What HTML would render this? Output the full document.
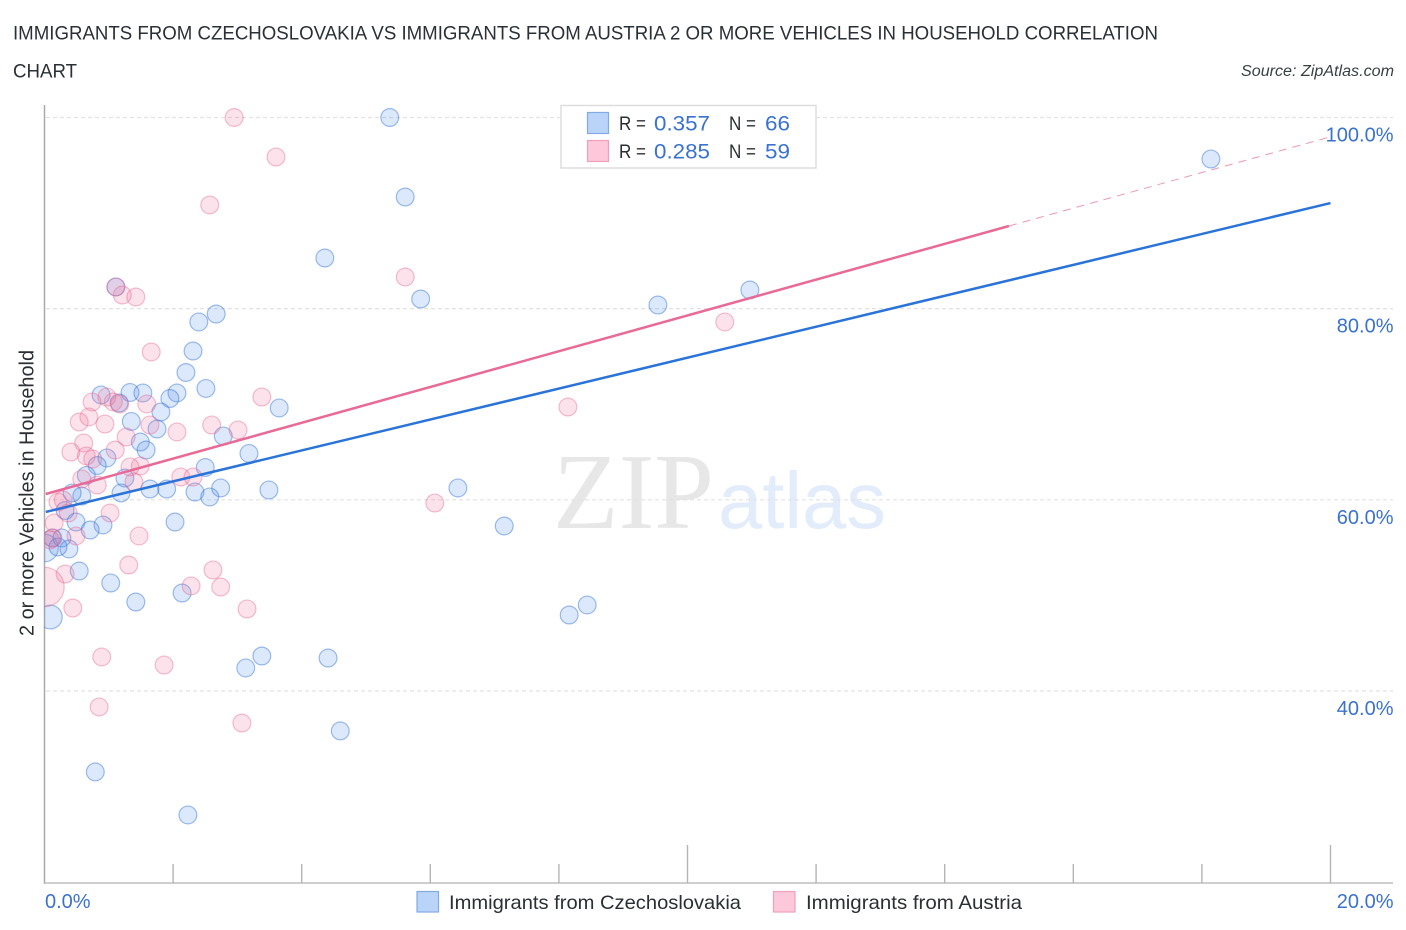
<!DOCTYPE html>
<html lang="en">
<head>
<meta charset="utf-8">
<title>Immigrants from Czechoslovakia vs Immigrants from Austria chart</title>
<style>
html,body{margin:0;padding:0;background:#fff;width:1406px;height:930px;overflow:hidden}
svg{display:block}
text{font-family:"Liberation Sans",sans-serif}
.title{font-size:19.5px;fill:#2b3036}
.blue{fill:#3b72cf}
.dark{fill:#2b2f33}
</style>
</head>
<body>
<svg id="chart" xmlns="http://www.w3.org/2000/svg" width="1406" height="930" viewBox="0 0 1406 930">
  <defs>
    <clipPath id="plot-clip"><rect x="44.5" y="100" width="1360" height="783"/></clipPath>
  </defs>
  <rect x="0" y="0" width="1406" height="930" fill="#fff"/>
  <text class="title" x="13" y="39.5" textLength="1145" lengthAdjust="spacingAndGlyphs">IMMIGRANTS FROM CZECHOSLOVAKIA VS IMMIGRANTS FROM AUSTRIA 2 OR MORE VEHICLES IN HOUSEHOLD CORRELATION</text>
  <text class="title" x="13" y="77.5" textLength="64" lengthAdjust="spacingAndGlyphs">CHART</text>
  <text x="1394" y="76" text-anchor="end" font-size="15.5" font-style="italic" fill="#3a3f44" textLength="153" lengthAdjust="spacingAndGlyphs">Source: ZipAtlas.com</text>

  <g>
    <text x="553" y="528" font-size="108" fill="#e7e7e7" style="font-family:'Liberation Serif',serif" textLength="161" lengthAdjust="spacingAndGlyphs">ZIP</text>
    <text x="718" y="528" font-size="80" fill="#e2ecfa" textLength="168" lengthAdjust="spacingAndGlyphs">atlas</text>
  </g>

  <g id="grid"></g>
  <g id="axes"></g>
  <g id="points" clip-path="url(#plot-clip)"></g>
  <g id="trends"></g>
  <g id="labels"></g>

  <text transform="translate(33.5,493) rotate(-90)" text-anchor="middle" font-size="20" fill="#2b2f33" textLength="286" lengthAdjust="spacingAndGlyphs">2 or more Vehicles in Household</text>

  <g>
    <rect x="561" y="105.5" width="255" height="62.5" fill="#fff" stroke="#dedede" stroke-width="1.5"/>
    <rect x="587.5" y="112.5" width="21" height="21" fill="#b9d4f8" stroke="#83abe3" stroke-width="1.2"/>
    <text class="dark" x="619" y="130" font-size="19.5" textLength="27" lengthAdjust="spacingAndGlyphs">R =</text>
    <text class="blue" x="654" y="130.5" font-size="21" textLength="56" lengthAdjust="spacingAndGlyphs">0.357</text>
    <text class="dark" x="729" y="130" font-size="19.5" textLength="27" lengthAdjust="spacingAndGlyphs">N =</text>
    <text class="blue" x="765" y="130.5" font-size="21" textLength="25" lengthAdjust="spacingAndGlyphs">66</text>
    <rect x="587.5" y="140.5" width="21" height="21" fill="#fcc8da" stroke="#f0a0bb" stroke-width="1.2"/>
    <text class="dark" x="619" y="158" font-size="19.5" textLength="27" lengthAdjust="spacingAndGlyphs">R =</text>
    <text class="blue" x="654" y="158.5" font-size="21" textLength="56" lengthAdjust="spacingAndGlyphs">0.285</text>
    <text class="dark" x="729" y="158" font-size="19.5" textLength="27" lengthAdjust="spacingAndGlyphs">N =</text>
    <text class="blue" x="765" y="158.5" font-size="21" textLength="25" lengthAdjust="spacingAndGlyphs">59</text>
  </g>

  <g>
    <rect x="417" y="891.5" width="21.5" height="20.5" fill="#b9d4f8" stroke="#83abe3" stroke-width="1.2"/>
    <text class="dark" x="449" y="909" font-size="19.5" textLength="292" lengthAdjust="spacingAndGlyphs">Immigrants from Czechoslovakia</text>
    <rect x="773.5" y="891.5" width="21.5" height="20.5" fill="#fcc8da" stroke="#f0a0bb" stroke-width="1.2"/>
    <text class="dark" x="806" y="909" font-size="19.5" textLength="216" lengthAdjust="spacingAndGlyphs">Immigrants from Austria</text>
  </g>
</svg>
<script>
const blueX = [0,0.09,5.37,18.14,5.61,4.36,5.85,1.11,9.54,10.97,2.67,2.40,2.31,2.20,2.51,0.88,1.33,1.53,2.06,1.95,1.16,1.81,3.65,1.35,1.75,2.78,1.49,1.58,3.18,0.97,0.82,0.65,2.50,1.25,1.19,1.64,1.90,2.34,2.57,2.74,3.49,0.58,0.43,0.32,0.49,2.03,0.91,0.71,0.27,0.12,0.38,0.21,0.54,1.03,2.14,1.42,6.43,7.15,8.16,8.44,3.38,3.13,4.41,4.60,0.79,2.23];
const blueY = [54.96,47.74,100,95.66,91.68,85.3,81.01,82.27,80.38,81.95,79.44,78.61,75.57,73.32,71.65,70.97,71.23,71.18,71.18,70.6,70.13,69.19,69.61,68.2,67.41,66.68,66.05,65.21,64.85,64.38,63.59,62.55,63.38,62.28,60.72,61.13,61.13,60.82,60.3,61.24,61.03,60.4,60.72,58.88,57.68,57.68,57.37,56.84,56.01,56.01,54.86,55.07,52.55,51.3,50.25,49.31,61.24,57.26,47.95,49,43.66,42.41,43.45,35.82,31.53,27.03];
const blueWeights = [2.4,1.8];
const pinkX = [0,1.66,3.38,0.97,0.74,1.07,1.17,1.59,0.69,0.54,0.94,1.64,2.06,2.60,3.01,1.27,0.61,0.41,0.65,1.10,0.75,1.49,1.33,1.39,0.82,0.58,2.12,2.31,0.29,0.21,0.37,1.02,0.15,0.49,1.47,0.13,0.09,0.32,1.31,2.62,2.28,2.74,0.44,3.15,2.95,3.60,2.57,5.61,1.21,1.42,10.58,8.14,6.07,0.89,1.86,0.85,3.07,1.11];
const pinkY = [50.88,75.47,70.76,70.76,70.24,70.24,70.03,70.03,68.67,68.14,67.93,67.83,67.1,67.83,67.31,66.57,65.95,65,64.59,65.21,64.27,63.54,63.44,61.87,61.55,62.18,62.39,62.39,59.98,59.77,58.62,58.62,57.58,56.22,56.22,56.01,55.8,52.24,53.18,52.66,50.99,50.88,48.68,48.58,100,95.87,90.85,83.31,81.43,81.22,78.61,69.71,59.67,43.56,42.72,38.33,36.65,82.27];
const pinkWeights = [4.9];
const blueTrendX = [0.02,20];
const blueTrendY = [58.73,91.05];
const pinkTrendX = [0.02,15];
const pinkTrendY = [60.61,88.65];
const pinkProjectionX = [15,20];
const pinkProjectionY = [88.65,97.98];
const yTickValues = [100,80,60,40];
const yTickLabels = ['100.0%','80.0%','60.0%','40.0%'];
const xTickValues = [0,2,4,6,8,10,12,14,16,18,20];
const xMajorTicks = [0,10,20];
const xTickLabels = ['0.0%','20.0%'];
const xLabelValues = [0,20];

const xScale = v => 44.5 + v * 64.3;
const yScale = v => 117.5 + (100 - v) * 9.558;
const svgNS = 'http://www.w3.org/2000/svg';
const baseRadius = 8.9;

function drawLine(parent, x1, y1, x2, y2, stroke, width, dash) {
  const el = document.createElementNS(svgNS, 'line');
  el.setAttribute('x1', x1);
  el.setAttribute('y1', y1);
  el.setAttribute('x2', x2);
  el.setAttribute('y2', y2);
  el.setAttribute('stroke', stroke);
  el.setAttribute('stroke-width', width);
  if (dash) el.setAttribute('stroke-dasharray', dash);
  parent.appendChild(el);
  return el;
}

function drawPoints(xs, ys, weights, fill, stroke, name) {
  const parent = document.getElementById('points');
  xs.forEach((x, i) => {
    const c = document.createElementNS(svgNS, 'circle');
    c.setAttribute('cx', xScale(x));
    c.setAttribute('cy', yScale(ys[i]));
    c.setAttribute('r', baseRadius * Math.sqrt(weights[i] || 1));
    c.setAttribute('fill', fill);
    c.setAttribute('stroke', stroke);
    c.setAttribute('stroke-width', 1.2);
    
    
    parent.appendChild(c);
  });
}

const gridGroup = document.getElementById('grid');
yTickValues.forEach(v => {
  const g = drawLine(gridGroup, 46, yScale(v), 1393, yScale(v), '#e2e2e2', 1.2, '4 3');
  
  
});

const axesGroup = document.getElementById('axes');
const yAxisLine = drawLine(axesGroup, 44.5, 105, 44.5, 884, '#a9a9a9', 1.5);


const xAxisLine = drawLine(axesGroup, 44, 883, 1393, 883, '#bdbdbd', 1.6);


xTickValues.forEach(v => {
  if (v === 0) return;
  const top = xMajorTicks.includes(v) ? 845 : 864;
  const t = drawLine(axesGroup, xScale(v), top, xScale(v), 883, '#b5b5b5', 1.4);
  
  
});

drawPoints(blueX, blueY, blueWeights, 'rgba(80,140,235,0.2)', 'rgba(45,110,215,0.45)', 'point-czechoslovakia');
drawPoints(pinkX, pinkY, pinkWeights, 'rgba(240,105,150,0.19)', 'rgba(232,100,145,0.42)', 'point-austria');

const trendGroup = document.getElementById('trends');
const pinkDash = drawLine(trendGroup, xScale(pinkProjectionX[0]), yScale(pinkProjectionY[0]), xScale(pinkProjectionX[1]), yScale(pinkProjectionY[1]), '#eb9ab5', 1, '8 6');


const blueTrend = drawLine(trendGroup, xScale(blueTrendX[0]), yScale(blueTrendY[0]), xScale(blueTrendX[1]), yScale(blueTrendY[1]), '#2a73d9', 2.5);


const pinkTrend = drawLine(trendGroup, xScale(pinkTrendX[0]), yScale(pinkTrendY[0]), xScale(pinkTrendX[1]), yScale(pinkTrendY[1]), '#e96a97', 2.5);



const labelGroup = document.getElementById('labels');
yTickValues.forEach((v, i) => {
  const t = document.createElementNS(svgNS, 'text');
  t.setAttribute('x', 1393.5);
  t.setAttribute('y', yScale(v) + 24);
  t.setAttribute('text-anchor', 'end');
  t.setAttribute('font-size', '20');
  t.setAttribute('class', 'blue');
  t.textContent = yTickLabels[i];
  
  
  labelGroup.appendChild(t);
});
xLabelValues.forEach((v, i) => {
  const t = document.createElementNS(svgNS, 'text');
  t.setAttribute('x', i === 0 ? xScale(v) + 0.5 : 1393.5);
  t.setAttribute('y', 908);
  t.setAttribute('text-anchor', i === 0 ? 'start' : 'end');
  t.setAttribute('font-size', '20');
  t.setAttribute('class', 'blue');
  t.textContent = xTickLabels[i];
  
  
  labelGroup.appendChild(t);
});
</script>
</body>
</html>
